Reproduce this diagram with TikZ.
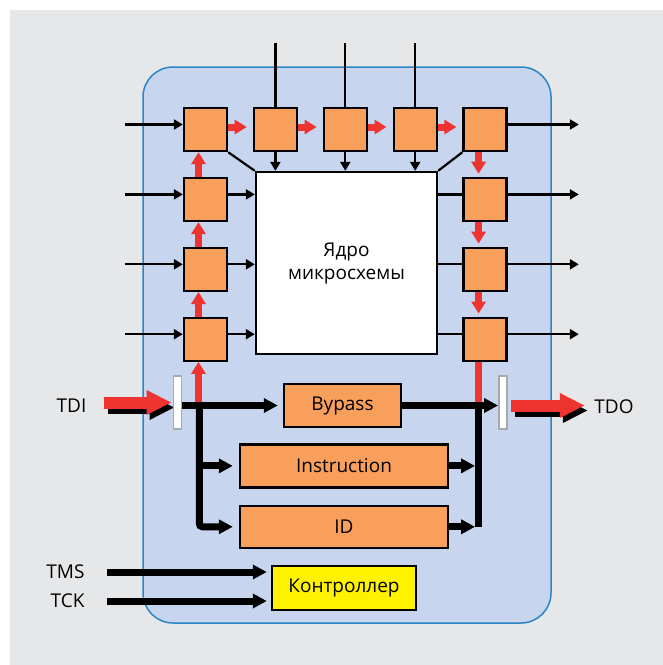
\documentclass[tikz,border=0pt]{standalone}
\usepackage{fontspec}
\setmainfont{Open Sans}
\usepackage{xcolor}
\definecolor{bggray}{HTML}{E6E7E9}
\definecolor{panelblue}{HTML}{C7D6EE}
\definecolor{panelline}{HTML}{2B86C8}
\definecolor{cellorange}{HTML}{F89F5B}
\definecolor{scanred}{HTML}{EE3431}
\definecolor{ctrlyellow}{HTML}{FFF200}
\definecolor{tapgray}{HTML}{A7A9AC}
\usetikzlibrary{arrows.meta, positioning, calc}

\begin{document}
\begin{tikzpicture}[
            x=1pt, y=-1pt,
            node distance=24.5pt,
            every node/.style={font=\fontsize{19}{23}\selectfont},
            cell/.style={rectangle, draw, line width=2.4pt, fill=cellorange, minimum size=43pt, inner sep=0pt},
            corebox/.style={rectangle, draw, line width=2.4pt, fill=white, minimum width=181pt, minimum height=182pt, align=center},
            regbox/.style={rectangle, draw, line width=2.4pt, fill=cellorange, minimum height=43pt, inner sep=0pt},
            ctrlbox/.style={rectangle, draw, line width=2.4pt, fill=ctrlyellow, minimum width=144pt, minimum height=44pt, inner sep=0pt},
            tapbox/.style={rectangle, draw=tapgray, line width=1.8pt, fill=white, minimum width=8pt, minimum height=53pt, inner sep=0pt},
            pin/.style={-{Triangle[length=9pt, width=10pt]}, line width=2.2pt},
            wire/.style={line width=2.2pt},
            scan/.style={-{Triangle[length=12pt, width=14pt]}, line width=7pt, scanred},
            scanline/.style={line width=7pt, scanred},
            bus/.style={line width=7pt},
            busarrow/.style={-{Triangle[length=14pt, width=14pt]}, line width=7pt},
            bigred/.style={-{Triangle[length=25pt, width=23pt]}, line width=12pt, scanred},
            bigshadow/.style={-{Triangle[length=25pt, width=23pt]}, line width=12pt, black}
        ]

        % --- background and chip outline ---
        \useasboundingbox (0,0) rectangle (663,665);
        \fill[white] (0,0) rectangle (663,665);
        \fill[bggray] (10,10) rectangle (663,665);
        \draw[panelline, fill=panelblue, line width=1.5pt, rounded corners=30pt] (143,67) rectangle (551,623);

        % --- boundary scan cells ---
        \node[cell] at (205.5,129.5) (L1) {};
        \node[cell, below=of L1] (L2) {};
        \node[cell, below=of L2] (L3) {};
        \node[cell, below=of L3] (L4) {};
        \node[cell, right=of L1] (T1) {};
        \node[cell, right=of T1] (T2) {};
        \node[cell, right=of T2] (T3) {};
        \node[cell, right=of T3] (R1) {};
        \node[cell, below=of R1] (R2) {};
        \node[cell, below=of R2] (R3) {};
        \node[cell, below=of R3] (R4) {};

        % --- core ---
        \node[corebox] at (346.5,263) (core) {Ядро\\микросхемы};

        % --- registers ---
        \node[regbox, minimum width=117pt] at (342.5,405.5) (bypass) {Bypass};
        \node[regbox, minimum width=208pt, below=15pt of bypass.south west, anchor=north west, xshift=-44pt] (instr) {Instruction};
        \node[regbox, minimum width=208pt, minimum height=42pt, below=16pt of instr] (idreg) {ID};
        \node[ctrlbox, below=16pt of idreg] (ctrl) {Контроллер};

        % --- taps and pins ---
        \node[tapbox] at (177.5,402.5) (tdiTap) {};
        \node[tapbox] at (503,402.5) (tdoTap) {};
        \node at (71.5,406) (tdi) {TDI};
        \node at (614,407) (tdo) {TDO};
        \node[anchor=east] at (88,572) (tms) {TMS};
        \node[anchor=east] at (88,601) (tck) {TCK};

        \coordinate (fork) at ([xshift=17pt]tdiTap.east |- bypass.west);
        \coordinate (join) at ([xshift=-6.5pt]R4.south |- bypass.east);
        \coordinate (tdiStart) at ([xshift=-69pt]tdiTap.west);
        \coordinate (tdiEnd) at ([xshift=-1pt]tdiTap.west);
        \coordinate (tdoStart) at ([xshift=3pt, yshift=-3pt]tdoTap.east);
        \coordinate (tdoEnd) at ([xshift=77pt, yshift=-3pt]tdoTap.east);

        % --- thin signal lines ---
        \foreach \i in {1,...,4} {
            \draw[pin] ([xshift=-58pt, yshift=5pt]L\i.west) -- ([yshift=5pt]L\i.west);
            \draw[pin] ([yshift=5pt]R\i.east) -- ++(71,0);
        }
        \foreach \i in {2,3,4} {
            \draw[pin] ([yshift=5pt]L\i.east) -- ([yshift=5pt]L\i.east -| core.west);
            \draw[wire] ([yshift=5pt]R\i.west -| core.east) -- ([yshift=5pt]R\i.west);
        }
        \foreach \i in {1,2,3} {
            \draw[wire] (T\i.north) -- ++(0,-64);
            \draw[pin] (T\i.south) -- (T\i.south |- core.north);
        }
        \draw[wire] (L1.south east) -- (core.north west);
        \draw[wire] (R1.south west) -- (core.north east);

        % --- scan chain ---
        \draw[scan, shorten >=6pt] ([yshift=2.5pt]L1.east) -- ([yshift=2.5pt]T1.west);
        \draw[scan, shorten >=6pt] ([yshift=2.5pt]T1.east) -- ([yshift=2.5pt]T2.west);
        \draw[scan, shorten >=6pt] ([yshift=2.5pt]T2.east) -- ([yshift=2.5pt]T3.west);
        \draw[scan, shorten >=6pt] ([yshift=2.5pt]T3.east) -- ([yshift=2.5pt]R1.west);
        \draw[scan] ([xshift=-7pt]L2.north) -- ([xshift=-7pt]L1.south);
        \draw[scan] ([xshift=-7pt]L3.north) -- ([xshift=-7pt]L2.south);
        \draw[scan] ([xshift=-7pt]L4.north) -- ([xshift=-7pt]L3.south);
        \draw[scan] ([xshift=-7pt]L4.south |- fork) -- ([xshift=-7pt]L4.south);
        \draw[scan, shorten >=3pt] ([xshift=-6.5pt]R1.south) -- ([xshift=-6.5pt]R2.north);
        \draw[scan, shorten >=3pt] ([xshift=-6.5pt]R2.south) -- ([xshift=-6.5pt]R3.north);
        \draw[scan, shorten >=3pt] ([xshift=-6.5pt]R3.south) -- ([xshift=-6.5pt]R4.north);
        \draw[scanline] ([xshift=-6.5pt]R4.south) -- (join);

        % --- data buses ---
        \draw[busarrow, shorten >=5pt] (tdiTap.east |- bypass.west) -- (bypass.west);
        \draw[busarrow, rounded corners=3pt, shorten >=6pt] (fork) -- (fork |- idreg.west) -- (idreg.west);
        \draw[busarrow, shorten >=6pt] (fork |- instr.west) -- (instr.west);
        \draw[busarrow] (bypass.east) -- (tdoTap.west |- bypass.east);
        \draw[bus] (join) -- (join |- idreg.east);
        \draw[busarrow, shorten >=3.5pt] (instr.east) -- (instr.east -| join);
        \draw[busarrow, shorten >=3.5pt] (idreg.east) -- (idreg.east -| join);

        % --- TDI / TDO ---
        \draw[bigshadow] ([shift={(4,5)}]tdiStart) -- ([shift={(3,5)}]tdiEnd);
        \draw[bigred] (tdiStart) -- (tdiEnd);
        \draw[bigshadow] ([shift={(4,5)}]tdoStart) -- ([shift={(3,5)}]tdoEnd);
        \draw[bigred] (tdoStart) -- (tdoEnd);
        \node[tapbox] at (tdiTap) (tdiTapTop) {};
        \node[tapbox] at (tdoTap) (tdoTapTop) {};

        % --- control pins ---
        \draw[busarrow, shorten >=4pt] ([xshift=19pt]tms.east) -- (tms.east -| ctrl.west);
        \draw[busarrow, shorten >=4pt] ([xshift=19pt]tck.east) -- (tck.east -| ctrl.west);

        \end{tikzpicture}
\end{document}
